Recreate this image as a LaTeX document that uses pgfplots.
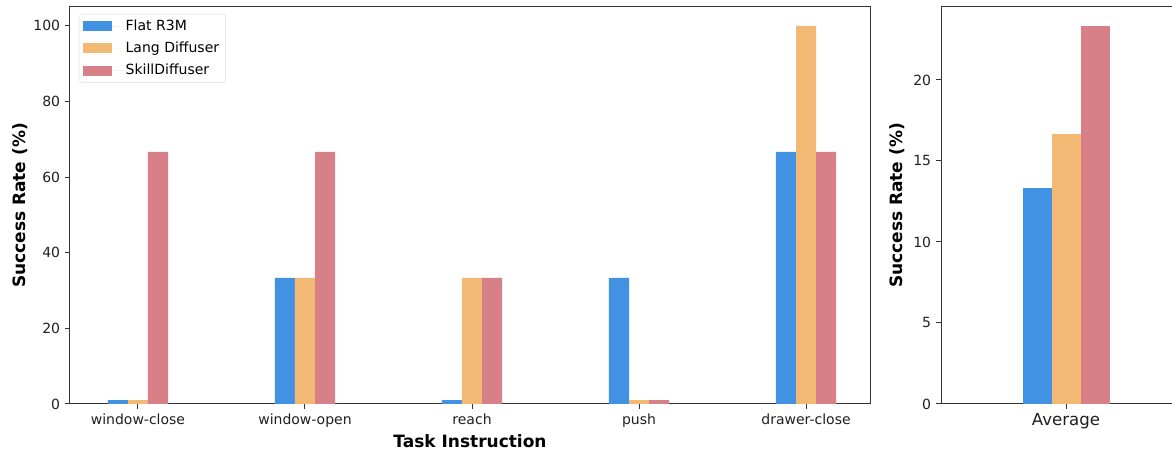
\documentclass[border=0pt]{standalone}
\usepackage{pgfplots}
\pgfplotsset{compat=1.18}
\usepackage{fontspec}
\setmainfont{DejaVu Sans}
\definecolor{cblue}{HTML}{4192E2}
\definecolor{corange}{HTML}{F2B974}
\definecolor{cred}{HTML}{D88088}
\definecolor{spine}{HTML}{333333}
\begin{document}
\fontsize{14pt}{17pt}\selectfont
\begin{tikzpicture}
\path[use as bounding box] (0,0) rectangle (1172pt,452pt);
\clip (0,0) rectangle (1172pt,452pt);
\pgfplotsset{
  base/.style={
    scale only axis, height=397pt, ymin=0,
    axis line style={spine, line width=1pt},
    every tick/.style={spine, line width=1pt},
    major tick length=5pt, tick align=outside,
    xtick pos=bottom, ytick pos=left,
    /pgf/number format/assume math mode=true,
    ticklabel style={font=\fontsize{14pt}{17pt}\selectfont, text=black!88},
    label style={font=\fontsize{17pt}{20pt}\selectfont\bfseries, text=black},
    ybar, bar shift=0pt,
    legend image code/.code={\path[##1,draw=none,sharp corners] (0pt,-5pt) rectangle (29pt,5pt); \path (0pt,0pt) -- (40pt,0pt);},
  }
}
% Left axis
\begin{axis}[base,
  at={(70pt,48pt)}, anchor=south west, width=800pt,
  xmin=-0.407, xmax=4.383, ymax=105,
  bar width=0.12,
  xtick={0,1,2,3,4},
  xticklabels={window-close,window-open,reach,push,drawer-close},
  ytick={0,20,40,60,80,100},
  xlabel={Task Instruction}, ylabel={Success Rate (\%)},
  xlabel style={at={(axis description cs:0.5,-0.093)}, anchor=center},
  ylabel style={at={(axis description cs:-0.0625,0.5)}, anchor=center},
  legend style={at={(axis description cs:0,1)}, anchor=north west,
    xshift=9pt, yshift=-7pt, draw=black!15, rounded corners=3pt,
    fill=white, font=\fontsize{14pt}{17pt}\selectfont,
    inner xsep=4pt, inner ysep=3pt, row sep=4.5pt,
    nodes={inner sep=2.5pt}},
  legend cell align=left,
]
\addplot[fill=cblue, draw=none] coordinates {(-0.12,1) (0.88,33.33) (1.88,1) (2.88,33.33) (3.88,66.67)};
\addplot[fill=corange, draw=none] coordinates {(0,1) (1,33.33) (2,33.33) (3,1) (4,100)};
\addplot[fill=cred, draw=none] coordinates {(0.12,66.67) (1.12,66.67) (2.12,33.33) (3.12,1) (4.12,66.67)};
\legend{Flat R3M, Lang Diffuser, SkillDiffuser}
\end{axis}
% Right axis
\begin{axis}[base,
  at={(941pt,48pt)}, anchor=south west, width=250pt,
  xmin=-0.5, xmax=0.5, ymax=24.5,
  bar width=0.116,
  xtick={0}, xticklabels={Average},
  xticklabel style={font=\fontsize{16.6pt}{19pt}\selectfont},
  ytick={0,5,10,15,20},
  ylabel={Success Rate (\%)},
  ylabel style={at={(axis description cs:-0.176,0.5)}, anchor=center},
]
\addplot[fill=cblue, draw=none] coordinates {(-0.116,13.33)};
\addplot[fill=corange, draw=none] coordinates {(0,16.67)};
\addplot[fill=cred, draw=none] coordinates {(0.116,23.33)};
\end{axis}
\end{tikzpicture}
\end{document}
